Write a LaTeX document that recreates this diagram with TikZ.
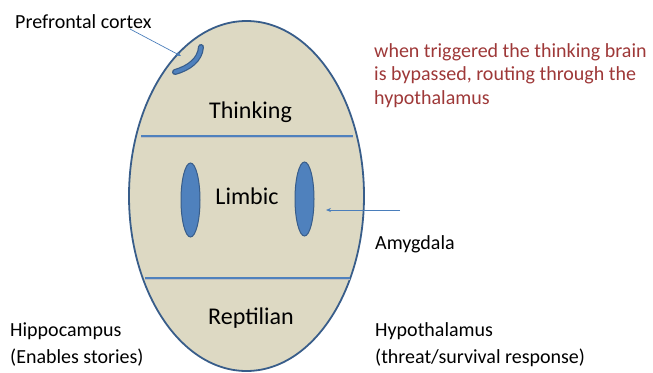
\documentclass[tikz,border=0pt]{standalone}
\usepackage{fontspec}
\usetikzlibrary{arrows.meta}
\setmainfont{Carlito}
\definecolor{tan}{HTML}{DDD9C3}
\definecolor{edge}{HTML}{385D8A}
\definecolor{acc}{HTML}{4F81BD}
\definecolor{arr}{HTML}{4A7EBB}
\definecolor{note}{RGB}{158,56,56}
\begin{document}
\begin{tikzpicture}[x=1pt,y=-1pt,
  lbl/.style={inner sep=0pt,font=\fontsize{20}{27}\selectfont,text=black},
  zone/.style={inner sep=0pt,font=\fontsize{24}{28}\selectfont,text=black,anchor=base},
  divider/.style={draw=acc,line width=2pt},
  lobe/.style={draw=edge,fill=acc,line width=1pt},
  pointer/.style={draw=arr,line width=0.7pt,-{Stealth[length=5pt,width=4pt]}}]
\useasboundingbox (0,0) rectangle (653,372);
% brain
\path[draw=edge,fill=tan,line width=1.8pt] (246.5,196) ellipse [x radius=117.5pt, y radius=175pt];
\coordinate (d1l) at (141,136); \coordinate (d1r) at (353,136);
\coordinate (d2l) at (145,278); \coordinate (d2r) at (350,278);
\draw[draw=black!25,line width=1.5pt] ([yshift=-1.5pt]d1l) -- ([yshift=-1.5pt]d1r);
\draw[draw=black!25,line width=1.5pt] ([yshift=-1.5pt]d2l) -- ([yshift=-1.5pt]d2r);
\draw[divider] (d1l) -- (d1r);
\draw[divider] (d2l) -- (d2r);
% limbic lobes
\path[lobe] (190.5,200) ellipse [x radius=9.5pt, y radius=37pt];
\path[lobe] (304.5,199) ellipse [x radius=9.5pt, y radius=37pt];
% prefrontal cortex crescent
\draw[edge,line width=6pt,line cap=round] (175,72) .. controls (189,68) and (200,60) .. (201,47);
\draw[acc,line width=3.6pt,line cap=round] (175,72) .. controls (189,68) and (200,60) .. (201,47);
% zone labels
\node[zone] (thinking) at (250.5,118) {Thinking};
\node[zone] (limbic) at (247,204) {Limbic};
\node[zone] (reptilian) at (251,324) {Reptilian};
% side labels
\node[lbl,anchor=base west] (pfc) at (15,28) {Prefrontal cortex};
\node[lbl,anchor=base west,text=note,align=left,font=\fontsize{20}{23.5}\selectfont] (note) at (374,104)
  {when triggered the thinking brain\\is bypassed, routing through the\\hypothalamus};
\node[lbl,anchor=base west] (amy) at (375,249) {Amygdala};
\node[lbl,anchor=base west] (hippo) at (10,336) {Hippocampus};
\node[lbl,anchor=base west] (hippo2) at (10,363) {(Enables stories)};
\node[lbl,anchor=base west] (hypo) at (375,336) {Hypothalamus};
\node[lbl,anchor=base west] (hypo2) at (375,363) {(threat/survival response)};
% pointers
\coordinate (pfTail) at (130,29);
\coordinate (pfTip) at (181,56);
\coordinate (amTail) at (400,210);
\coordinate (amTip) at (326,210);
\draw[pointer] (pfTail) -- (pfTip);
\draw[pointer] (amTail) -- (amTip);
\end{tikzpicture}
\end{document}
